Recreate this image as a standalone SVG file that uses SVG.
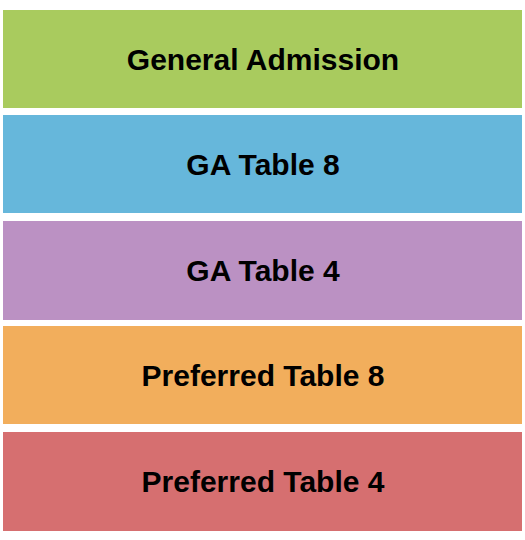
<svg xmlns="http://www.w3.org/2000/svg" width="525" height="540" viewBox="0 0 525 540">
<style>
.s{stroke:none}
.t{font-family:"Liberation Sans",Arial,sans-serif;font-weight:bold;font-size:30px;fill:#000;text-anchor:middle}
</style>
<rect width="525" height="540" fill="#fff"/>
<g id="general-admission"><rect class="s" x="3" y="10" width="519" height="98" fill="#a9cb5e"/><text class="t" x="263" y="70">General Admission</text></g>
<g id="ga-table-8"><rect class="s" x="3" y="115" width="519" height="98" fill="#66b7db"/><text class="t" x="263" y="175">GA Table 8</text></g>
<g id="ga-table-4"><rect class="s" x="3" y="221" width="519" height="99" fill="#bb91c3"/><text class="t" x="263" y="281">GA Table 4</text></g>
<g id="preferred-table-8"><rect class="s" x="3" y="326" width="519" height="98" fill="#f2ae5c"/><text class="t" x="263" y="386">Preferred Table 8</text></g>
<g id="preferred-table-4"><rect class="s" x="3" y="432" width="519" height="99" fill="#d66f70"/><text class="t" x="263" y="492">Preferred Table 4</text></g>
<g id="connectors"/>
</svg>
